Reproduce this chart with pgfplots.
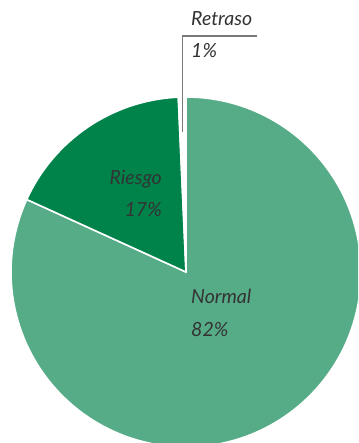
\documentclass[border=0pt]{standalone}
\usepackage{pgfplots}
\pgfplotsset{compat=1.18}
\usepackage{fontspec}
\setmainfont{Lato}
\definecolor{normalc}{HTML}{57AC88}
\definecolor{riesgoc}{HTML}{00834B}
\definecolor{retrasoc}{HTML}{FFFFFF}
\definecolor{txt}{HTML}{333333}
\definecolor{leader}{HTML}{7A7A7A}
% slice values (percent)
\def\vN{81.8}
\def\vR{17.5}
\def\vT{0.7}
\begin{document}
\begin{tikzpicture}
\begin{axis}[hide axis, disabledatascaling, x=1pt, y=1pt,
  xmin=-186, xmax=172, ymin=-171, ymax=272, clip=true]
% Normal
\fill[normalc, draw=white, line width=1.6pt, line join=round]
  (axis cs:0,0) -- ++(90:175pt)
  arc[start angle=90, end angle={90-3.6*\vN}, radius=175pt] -- cycle;
% Riesgo
\fill[riesgoc, draw=white, line width=1.6pt, line join=round]
  (axis cs:0,0) -- ++({90-3.6*\vN}:175pt)
  arc[start angle={90-3.6*\vN}, end angle={90-3.6*(\vN+\vR)}, radius=175pt] -- cycle;
% Retraso
\fill[retrasoc, draw=white, line width=1.6pt, line join=round]
  (axis cs:0,0) -- ++({90-3.6*(\vN+\vR)}:175pt)
  arc[start angle={90-3.6*(\vN+\vR)}, end angle={90-3.6*(\vN+\vR+\vT)}, radius=175pt] -- cycle;
% leader line
\draw[leader, line width=1.2pt] (axis cs:-3.5,140) -- (axis cs:-3.5,236) -- (axis cs:71,236);
% labels
\begin{scope}[every node/.style={font=\fontsize{19.5}{22}\selectfont\itshape, text=txt, inner sep=0pt}]
\node[anchor=base west] at (axis cs:5,246) {Retraso};
\node[anchor=base west] at (axis cs:5,214) {1\%};
\node[anchor=base east] at (axis cs:-24,87) {Riesgo};
\node[anchor=base east] at (axis cs:-24,55) {17\%};
\node[anchor=base west] at (axis cs:5,-32) {Normal};
\node[anchor=base west] at (axis cs:5,-65) {82\%};
\end{scope}
\end{axis}
\pgfresetboundingbox
\path[use as bounding box] (current axis.south west) rectangle (current axis.north east);
\end{tikzpicture}
\end{document}
